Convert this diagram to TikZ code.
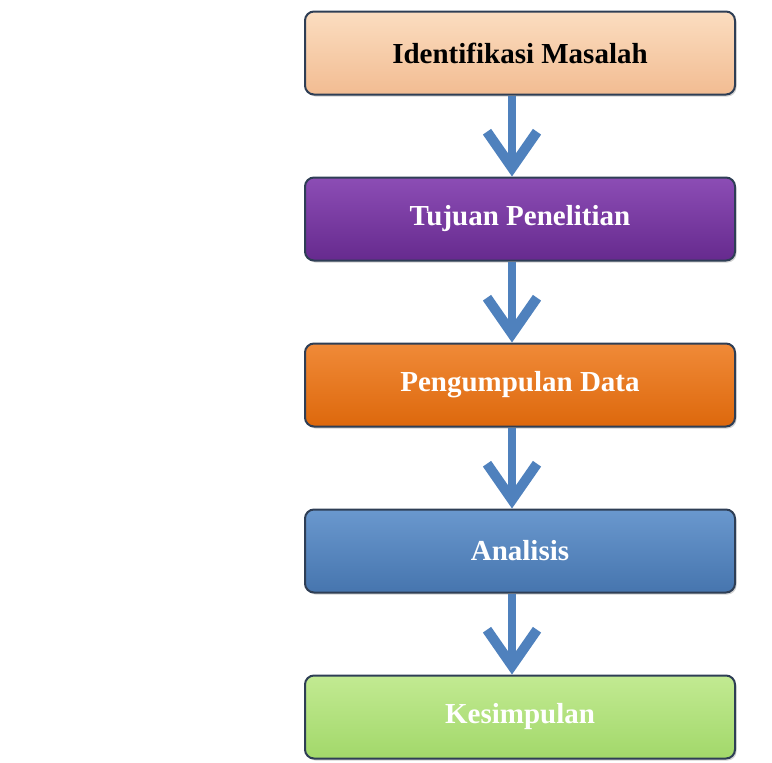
\documentclass[tikz,border=0pt]{standalone}
\usepackage{fontspec}
\setmainfont{Liberation Serif}
\usetikzlibrary{positioning,arrows.meta,shadows}
\definecolor{peach}{HTML}{F2BC92}
\definecolor{peachtop}{HTML}{FBDDC0}
\definecolor{ungu}{HTML}{662A8E}
\definecolor{ungutop}{HTML}{8C4DB5}
\definecolor{jingga}{HTML}{DD680C}
\definecolor{jinggatop}{HTML}{F08A38}
\definecolor{biru}{HTML}{4675AE}
\definecolor{birutop}{HTML}{6A98CE}
\definecolor{hijau}{HTML}{A2D86A}
\definecolor{hijautop}{HTML}{C2EA92}
\definecolor{garis}{HTML}{2E3E55}
\definecolor{panah}{HTML}{4F81BD}
\tikzset{
  box/.style={rounded corners=9pt, draw=garis, line width=2pt,
    minimum width=430pt, minimum height=83pt,
    font=\fontsize{29}{35}\selectfont\bfseries,
    drop shadow={opacity=0.35, shadow xshift=1.5pt, shadow yshift=-2pt}},
  flow/.style={draw=panah, line width=8pt,
    -{Straight Barb[length=36pt,width=50pt,line width=10pt]}},
}
\begin{document}
\begin{tikzpicture}[x=1pt,y=1pt,node distance=81pt]
\useasboundingbox (0,0) rectangle (772,-763);
\node [box, top color=peachtop, bottom color=peach, text=black] (ident) at (520,-53) {Identifikasi Masalah};
\node [box, top color=ungutop, bottom color=ungu, text=white, below=of ident] (tujuan) {Tujuan Penelitian};
\node [box, top color=jinggatop, bottom color=jingga, text=white, below=of tujuan] (data) {Pengumpulan Data};
\node [box, top color=birutop, bottom color=biru, text=white, below=of data] (analisis) {Analisis};
\node [box, top color=hijautop, bottom color=hijau, text=white, below=of analisis] (simpul) {Kesimpulan};
\draw [flow] ([xshift=-8pt]ident.south) -- ([xshift=-8pt]tujuan.north);
\draw [flow] ([xshift=-8pt]tujuan.south) -- ([xshift=-8pt]data.north);
\draw [flow] ([xshift=-8pt]data.south) -- ([xshift=-8pt]analisis.north);
\draw [flow] ([xshift=-8pt]analisis.south) -- ([xshift=-8pt]simpul.north);
\end{tikzpicture}
\end{document}
